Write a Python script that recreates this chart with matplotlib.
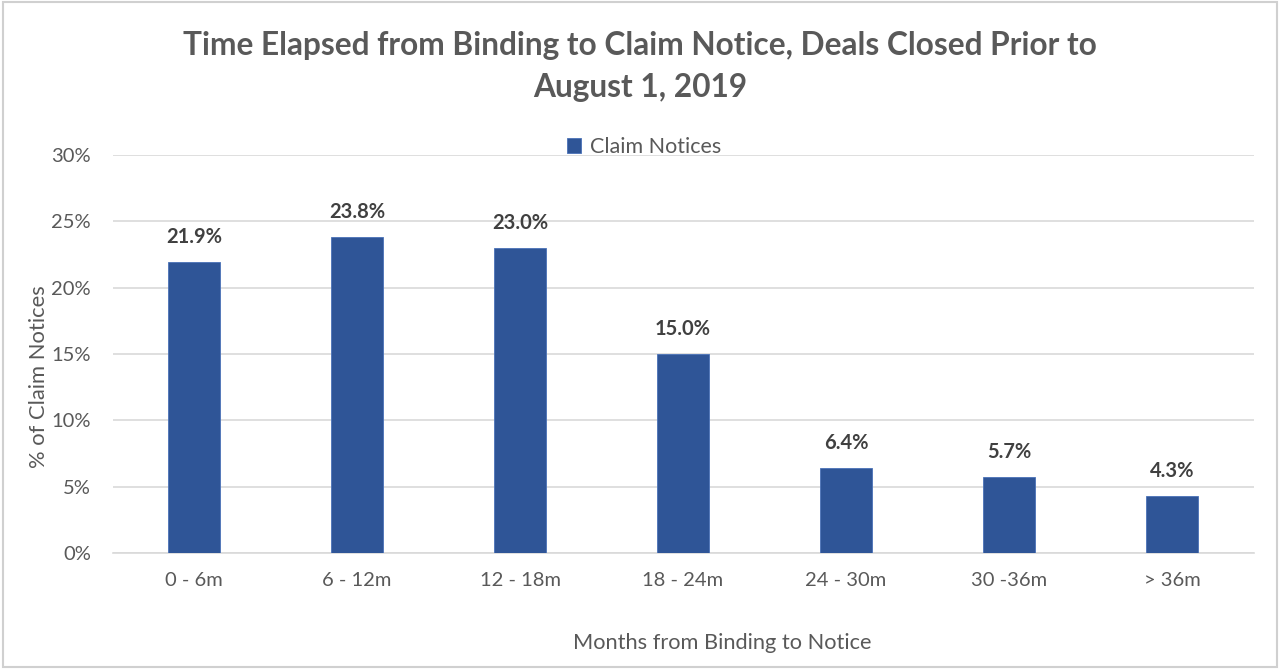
import matplotlib
matplotlib.use("Agg")
import matplotlib.pyplot as plt
from matplotlib.patches import Rectangle

categories = ["0 - 6m", "6 - 12m", "12 - 18m", "18 - 24m", "24 - 30m", "30 -36m", "> 36m"]
values = [21.9, 23.8, 23.0, 15.0, 6.4, 5.7, 4.3]
yticks = [0, 5, 10, 15, 20, 25, 30]
series_name = "Claim Notices"

plt.rcParams['font.family'] = ['Lato', 'DejaVu Sans']
W, H = 1280, 669
fig = plt.figure(figsize=(W/100, H/100), dpi=100)
fig.patch.set_facecolor('white')
fig.add_artist(Rectangle((0.002, 0.003), 0.996, 0.994, transform=fig.transFigure,
                         fill=False, edgecolor='#d0d0d0', linewidth=1.5))

left, right = 112.5/W, 1253.5/W
bottom, top = 1 - 553/H, 1 - 155/H
ax = fig.add_axes([left, bottom, right-left, top-bottom])

bar_color = '#2F5597'
x = list(range(len(categories)))
bars = ax.bar(x, values, width=0.32, color=bar_color, edgecolor='#4a72b8', linewidth=0.6,
              label=series_name, zorder=3)
ax.set_xlim(-0.5, len(categories)-0.5)
ax.set_ylim(0, 30)
ax.set_yticks(yticks)
ax.set_yticklabels([f"{t}%" for t in yticks])
ax.set_xticks(x)
ax.set_xticklabels(categories)
ax.grid(axis='y', color='#d9d9d9', linewidth=1.2, zorder=0)
for s in ['top', 'right', 'left']:
    ax.spines[s].set_visible(False)
ax.spines['bottom'].set_color('#d9d9d9')
ax.spines['bottom'].set_linewidth(1.2)
ax.tick_params(axis='both', length=0, labelsize=14.5, colors='#595959')
ax.tick_params(axis='x', pad=14)
ax.tick_params(axis='y', pad=15.5)

for xi, v in zip(x, values):
    ax.annotate(f"{v:.1f}%", (xi, v), xytext=(0, 11), textcoords='offset points',
                ha='center', va='bottom', fontsize=14.5, fontweight='bold', color='#404040')

fig.text(0.5, 1 - 45/H, "Time Elapsed from Binding to Claim Notice, Deals Closed Prior to",
         ha='center', va='center', fontsize=22.8, fontweight='bold', color='#595959')
fig.text(0.5, 1 - 87/H, "August 1, 2019",
         ha='center', va='center', fontsize=22.8, fontweight='bold', color='#595959')

leg = fig.legend(handles=[bars], labels=[series_name], loc='center', bbox_to_anchor=(644/W, 1-147/H),
                 frameon=False, fontsize=15.5, handlelength=0.65, handleheight=0.65, handletextpad=0.4)
for t in leg.get_texts():
    t.set_color('#595959')

fig.text(39/W, 1 - 377/H, "% of Claim Notices", rotation=90, ha='center', va='center',
         fontsize=15.8, color='#595959')
fig.text(722/W, 1 - 643/H, "Months from Binding to Notice", ha='center', va='center',
         fontsize=15.7, color='#595959')

fig.savefig("out.png", dpi=100, facecolor='white')
